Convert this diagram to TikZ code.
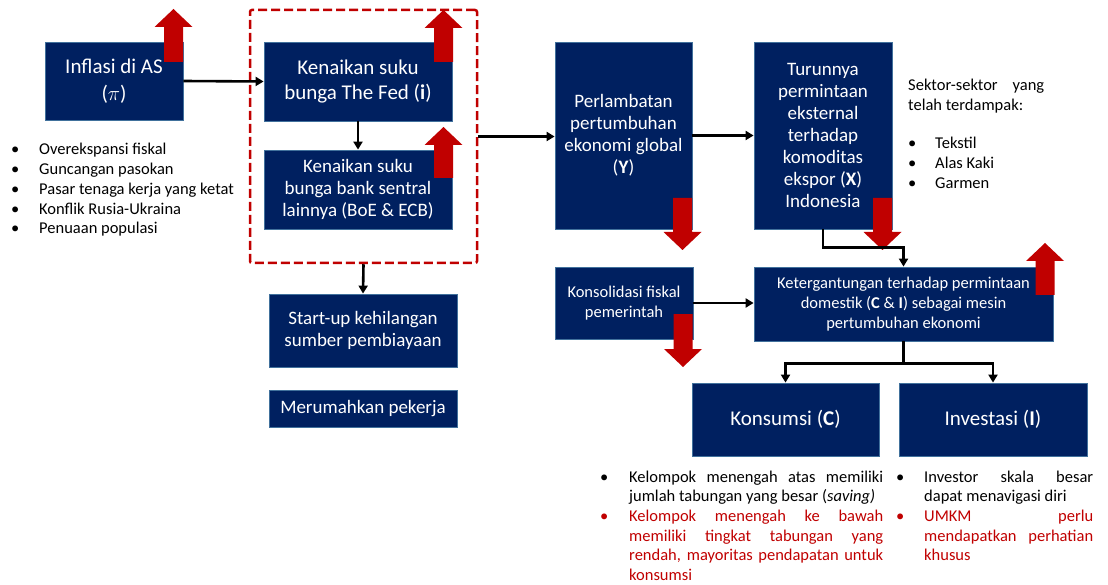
\documentclass[tikz,border=0pt]{standalone}
\usepackage{fontspec}
\setmainfont{Carlito}
\usepackage{xcolor}
\usetikzlibrary{arrows.meta, positioning}
\definecolor{navy}{HTML}{002060}
\definecolor{navyline}{HTML}{41719C}
\definecolor{darkred}{HTML}{C00000}

% block arrows: centre x, tip y, end y
\newcommand{\redup}[3]{\fill[darkred] (#1-9.5,#3) -- (#1-9.5,#2+18) -- (#1-19,#2+18) -- (#1,#2) -- (#1+19,#2+18) -- (#1+9.5,#2+18) -- (#1+9.5,#3) -- cycle;}
\newcommand{\reddown}[3]{\fill[darkred] (#1-9.5,#3) -- (#1-9.5,#2-18) -- (#1-19,#2-18) -- (#1,#2) -- (#1+19,#2-18) -- (#1+9.5,#2-18) -- (#1+9.5,#3) -- cycle;}
\newcommand{\redtext}{\leavevmode\color{darkred}}

\begin{document}
\begin{tikzpicture}[x=1pt, y=-1pt,
    box/.style={fill=navy, draw=navyline, line width=0.8pt, text=white, align=center, inner sep=0pt},
    conn/.style={-{Triangle[length=8pt,width=9pt]}, line width=2.6pt, black},
    big/.style={font=\fontsize{21}{24.5}\selectfont},
    mid/.style={font=\fontsize{19}{22}\selectfont},
    small/.style={font=\fontsize{16.5}{20}\selectfont},
    note/.style={font=\fontsize{16.5}{19.7}\selectfont, inner sep=0pt, anchor=base west}]
    \useasboundingbox (0,0) rectangle (1108,585);

    \node[box, big, minimum width=138pt, minimum height=78pt] (infl) at (114,81) {Inflasi di AS\\[3pt]($\pi$)};
    \node[box, big, minimum width=188pt, minimum height=79pt] (fed) at (358,81.5) {Kenaikan suku\\bunga The Fed (\textbf{i})};
    \node[box, mid, minimum width=188pt, minimum height=79pt] (boe) at (358,189.5) {Kenaikan suku\\bunga bank sentral\\lainnya (BoE \& ECB)};
    \node[draw=darkred, line width=2.5pt, dash pattern=on 9pt off 4pt, rounded corners=2pt,
          minimum width=227pt, minimum height=253pt] (grp) at (363.5,136.5) {};

    \node[box, mid, minimum width=188pt, minimum height=73pt] (startup) at (363,330.5) {Start-up kehilangan\\sumber pembiayaan};
    \node[box, mid, minimum width=188pt, minimum height=37pt] (phk) at (363,408.5) {Merumahkan pekerja};

    \node[box, mid, minimum width=137pt, minimum height=187pt] (glob) at (623.5,135.5) {Perlambatan\\pertumbuhan\\ekonomi global\\(\textbf{Y})};
    \node[box, mid, minimum width=138pt, minimum height=187pt] (ekspor) at (823,135.5) {Turunnya\\permintaan\\eksternal\\terhadap\\komoditas\\ekspor (\textbf{X})\\Indonesia};
    \node[box, small, minimum width=138pt, minimum height=72pt] (fisk) at (624,303) {Konsolidasi fiskal\\pemerintah};
    \node[box, small, minimum width=299pt, minimum height=74pt] (dom) at (903.5,304) {Ketergantungan terhadap permintaan\\domestik (\textbf{C} \& \textbf{I}) sebagai mesin\\pertumbuhan ekonomi};
    \node[box, big, minimum width=187pt, minimum height=73pt] (kons) at (785.5,419.5) {Konsumsi (\textbf{C})};
    \node[box, big, minimum width=188pt, minimum height=73pt] (inv) at (993,419.5) {Investasi (\textbf{I})};

    % naik / turun
    \redup{173.5}{9}{62}
    \redup{443.5}{10}{62}
    \redup{443.5}{127}{178}
    \redup{1045}{243}{295}
    \reddown{682.5}{250}{198}
    \reddown{882.5}{250}{198}
    \reddown{683}{367}{314}

    \draw[conn] (infl.east) -- (fed.west);
    \draw[conn] (fed.south) -- (boe.north);
    \draw[conn] (grp.south) -- (startup.north);
    \draw[conn] (grp.east) -- (grp.east -| glob.west);
    \draw[conn] (glob.east) -- (ekspor.west);
    \draw[conn] (ekspor.south) -- ++(0,18) -| (dom.north);
    \draw[conn] (fisk.east) -- (fisk.east -| dom.west);
    \coordinate (split) at ([yshift=-22pt]dom.south);
    \draw[conn] (dom.south) -- (split) -| (kons.north);
    \draw[conn] (split) -| (inv.north);

    % catatan
    \node[note] (penyebab) at (11,155) {\begin{tabular}[t]{@{}p{28pt}@{}l@{}}
        \textbullet & Overekspansi fiskal\\
        \textbullet & Guncangan pasokan\\
        \textbullet & Pasar tenaga kerja yang ketat\\
        \textbullet & Konflik Rusia-Ukraina\\
        \textbullet & Penuaan populasi
    \end{tabular}};
    \node[note] (sektor) at (908,91) {\begin{tabular}[t]{@{}l@{}}
        \makebox[136pt][s]{Sektor-sektor yang}\\
        telah terdampak:
    \end{tabular}};
    \node[note] (sektorlist) at (908,149) {\begin{tabular}[t]{@{}p{27pt}@{}l@{}}
        \textbullet & Tekstil\\
        \textbullet & Alas Kaki\\
        \textbullet & Garmen
    \end{tabular}};
    \node[note] (catkons) at (600,482) {\begin{tabular}[t]{@{}p{29pt}@{}l@{}}
        \textbullet & \makebox[254pt][s]{Kelompok menengah atas memiliki}\\
        & jumlah tabungan yang besar (\textit{saving)}\\
        \redtext\textbullet & \redtext\makebox[254pt][s]{Kelompok menengah ke bawah}\\
        & \redtext\makebox[254pt][s]{memiliki tingkat tabungan yang}\\
        & \redtext\makebox[254pt][s]{rendah, mayoritas pendapatan untuk}\\
        & \redtext konsumsi
    \end{tabular}};
    \node[note] (catinv) at (896,482) {\begin{tabular}[t]{@{}p{28pt}@{}l@{}}
        \textbullet & \makebox[169pt][s]{Investor skala besar}\\
        & dapat menavigasi diri\\
        \redtext\textbullet & \redtext\makebox[169pt][s]{UMKM perlu}\\
        & \redtext\makebox[169pt][s]{mendapatkan perhatian}\\
        & \redtext khusus
    \end{tabular}};
\end{tikzpicture}
\end{document}
